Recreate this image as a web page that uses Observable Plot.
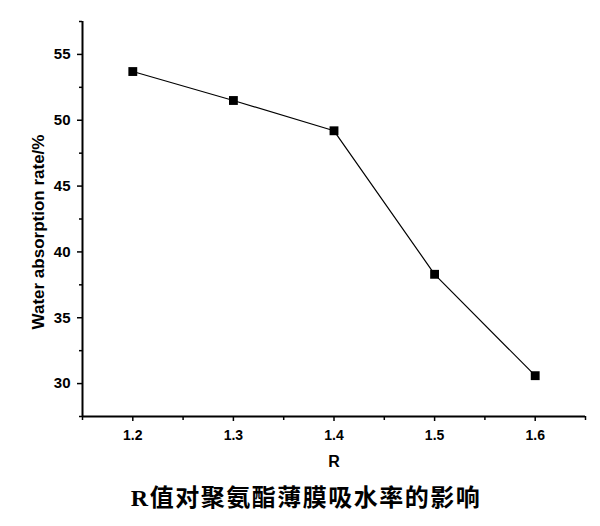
<!DOCTYPE html>
<html>
<head>
<meta charset="utf-8">
<script src="https://cdn.jsdelivr.net/npm/d3@7"></script>
<script src="https://cdn.jsdelivr.net/npm/@observablehq/plot@0.6"></script>
<style>
  body { margin: 0; background: #fff; }
  #title { font-family: "Liberation Serif", "Noto Sans CJK SC", serif; font-weight: bold; font-size: 24px; letter-spacing: 1.5px; line-height: 28px; text-align: center; padding-left: 12px; width: 588px; margin-top: 4px; color: #000; }
</style>
</head>
<body>
<div id="chart"></div>
<div id="title">R值对聚氨酯薄膜吸水率的影响</div>
<script>
const rValues = [1.2, 1.3, 1.4, 1.5, 1.6];
const waterAbsorption = [53.7, 51.5, 49.2, 38.3, 30.6];
const xMajorTicks = [1.2, 1.3, 1.4, 1.5, 1.6];
const xMinorTicks = [1.15, 1.25, 1.35, 1.45, 1.55, 1.65];
const yMajorTicks = [30, 35, 40, 45, 50, 55];
const yMinorTicks = [27.5, 32.5, 37.5, 42.5, 47.5, 52.5, 57.5];
const xLabel = "R";
const yLabel = "Water absorption rate/%";

const data = rValues.map((r, i) => ({r, w: waterAbsorption[i]}));

const chart = Plot.plot({
  width: 600,
  height: 480,
  marginTop: 21,
  marginLeft: 82,
  marginRight: 15,
  marginBottom: 64,
  style: {fontFamily: "'Liberation Sans', Arial, sans-serif", fontSize: "14px", fontWeight: "bold", color: "#000", background: "#fff"},
  x: {domain: [1.15, 1.65]},
  y: {domain: [27.5, 57.5]},
  marks: [
    Plot.axisX({ticks: xMajorTicks, tickSize: 5, tickPadding: 9, tickFormat: d => d.toFixed(1), label: null, strokeWidth: 1.5, fontSize: 14}),
    Plot.axisX({ticks: xMinorTicks, tickSize: 4, text: null, label: null, strokeWidth: 1.5}),
    Plot.axisY({ticks: yMajorTicks, tickSize: 5, tickPadding: 7, label: null, strokeWidth: 1.5, fontSize: 15}),
    Plot.axisY({ticks: yMinorTicks, tickSize: 3, text: null, label: null, strokeWidth: 1.5}),
    Plot.ruleY([27.5], {stroke: "black", strokeWidth: 2}),
    Plot.ruleX([1.15], {stroke: "black", strokeWidth: 2}),
    Plot.text([yLabel], {frameAnchor: "left", textAnchor: "middle", rotate: -90, dx: -44, dy: 13, fontSize: 17, fontWeight: "bold"}),
    Plot.text([xLabel], {frameAnchor: "bottom", dy: 50, fontSize: 16, fontWeight: "bold"}),
    Plot.line(data, {x: "r", y: "w", stroke: "black", strokeWidth: 1.2}),
    Plot.dot(data, {x: "r", y: "w", symbol: "square", fill: "black", stroke: "none", r: 5})
  ]
});
document.getElementById("chart").appendChild(chart);
</script>
</body>
</html>
